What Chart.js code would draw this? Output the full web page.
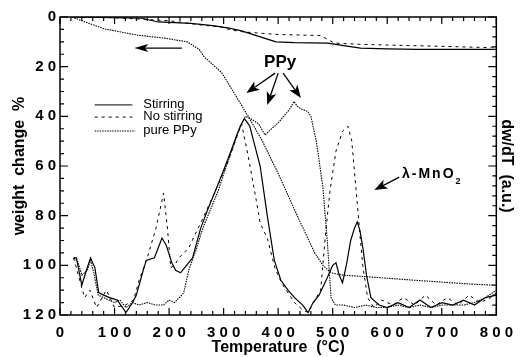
<!DOCTYPE html>
<html>
<head>
<meta charset="utf-8">
<script src="https://cdn.jsdelivr.net/npm/chart.js@4"></script>
<style>
html, body { margin: 0; padding: 0; background: #fff; }
</style>
</head>
<body>
<canvas id="tgaChart" width="522" height="357"></canvas>
<script>
// TGA curves (weight change %, left axis)
var tgaStirT = [25, 100, 150, 170, 180, 240, 280, 310, 333, 360, 396, 430, 491, 520, 551, 600, 655, 703, 750, 800];
var tgaStirW = [0, 0.3, 0.5, 1.5, 2, 2.6, 3.5, 4.5, 5.6, 7.5, 10, 10.3, 10.5, 11.5, 12.5, 12.8, 13, 13, 13, 13];

var tgaNoStirT = [25, 100, 200, 258, 295, 313, 336, 396, 478, 503, 550, 600, 700, 782, 800];
var tgaNoStirW = [0, 0.3, 1.5, 3.2, 4, 5.2, 6, 7, 7.5, 10.5, 11, 11.3, 11.8, 12.3, 12];

var tgaPpyT = [22, 51, 82, 142, 191, 233, 255, 264, 287, 297, 327, 345, 370, 400, 436, 467, 482, 497, 520, 557, 650, 750, 795];
var tgaPpyW = [0, 2.4, 4.8, 7.3, 8.5, 10, 13, 16, 20.5, 22.6, 33.4, 40, 49.5, 63, 80.5, 95, 100, 103, 104, 104.5, 106, 107.5, 108];

// DTG curves (dw/dT, right axis, a.u.)
var dtgStirT = [25, 30, 40, 47, 56, 64, 71, 80, 91, 105, 121, 133, 140, 150, 158, 173, 180, 187, 195, 205,
	212, 221, 232, 243, 258, 270, 285, 303, 315, 325, 333, 338, 342, 348, 355, 367, 380, 393, 405, 418,
	430, 445, 455, 464, 475, 490, 500, 506, 512, 518, 525, 533, 540, 545, 550, 556, 562, 570, 585, 600,
	620, 640, 660, 680, 700, 720, 740, 760, 780, 800];
var dtgStirV = [97, 97, 108, 103, 97, 101, 111, 112, 113, 114, 119, 115, 112, 104, 98, 97, 93, 89, 92, 99,
	102, 103, 100, 97, 85, 78, 70, 60, 53, 47, 43, 41, 42, 44, 50, 60, 80, 98, 106, 110,
	113, 116, 119, 115, 112, 105, 100, 99, 104, 107, 100, 90, 85, 82.5, 86, 94, 104, 113, 116, 117,
	115, 117, 114, 117, 115, 116, 114, 116, 113, 112];

var dtgNoStirT = [25, 35, 45, 55, 67, 85, 100, 120, 135, 145, 160, 176, 190, 197, 203, 210, 218, 236, 260, 285,
	305, 318, 333, 345, 360, 367, 380, 394, 406, 418, 430, 445, 455, 470, 478, 487, 495, 506, 518, 528,
	535, 545, 555, 564, 575, 590, 610, 630, 650, 670, 690, 710, 730, 750, 770, 790, 800];
var dtgNoStirV = [97, 105, 113, 110, 117, 110, 117, 116, 114, 106, 97, 85, 71, 85, 101, 100, 97, 93, 82, 70,
	60, 52, 43, 56, 74, 83, 89, 101, 107, 111, 115, 118, 119, 113, 110, 87, 70, 54, 46, 44,
	50, 75, 100, 113, 117, 114, 116, 113, 116, 112, 116, 113, 116, 112, 115, 113, 111];

var dtgPpyT = [25, 32, 40, 50, 56, 62, 70, 80, 90, 100, 110, 121, 133, 145, 160, 175, 190, 200, 210, 221,
	227, 236, 249, 262, 275, 290, 305, 318, 330, 340, 350, 364, 376, 388, 400, 410, 418, 424, 429, 435,
	442, 454, 460, 470, 482, 490, 497, 505, 520, 540, 560, 580, 600, 620, 640, 660, 680, 700, 720, 740,
	760, 780, 800];
var dtgPpyV = [97, 98, 104, 102, 98, 103, 112, 113, 114, 115, 114, 117, 115, 116, 115, 116, 116, 114, 115, 112.5,
	111, 102, 94, 85, 78, 70, 60, 52, 44, 40, 41, 43, 47.5, 45, 42.7, 40, 38, 36, 34, 36,
	37, 38, 40, 50, 68.5, 90, 113, 116, 116, 117, 116, 117, 117, 116, 117, 116, 117, 116, 116, 116,
	115, 113, 110];

var xTicks = [0, 100, 200, 300, 400, 500, 600, 700, 800];
var yTicks = [0, 20, 40, 60, 80, 100, 120];

var legendNames = ['Stirring', 'No stirring', 'pure PPy'];
var dashes = [[], [3, 4], [1.5, 1]];

function pts(xs, ys) {
	return xs.map(function (x, i) { return { x: x, y: ys[i] }; });
}

function spaced(v) {
	return String(v).split('').join(' ');
}

var boldFont = { family: '"Liberation Sans", Arial, sans-serif', size: 15, weight: 'bold' };
var titleFont = { family: '"Liberation Sans", Arial, sans-serif', size: 16, weight: 'bold' };

function arrow(ctx, x1, y1, x2, y2, len, half) {
	var a = Math.atan2(y2 - y1, x2 - x1);
	var bx = x2 - Math.cos(a) * len * 0.75, by = y2 - Math.sin(a) * len * 0.75;
	ctx.beginPath();
	ctx.moveTo(x1, y1);
	ctx.lineTo(bx, by);
	ctx.stroke();
	ctx.beginPath();
	ctx.moveTo(x2, y2);
	ctx.lineTo(x2 - Math.cos(a) * len + Math.sin(a) * half, y2 - Math.sin(a) * len - Math.cos(a) * half);
	ctx.lineTo(bx, by);
	ctx.lineTo(x2 - Math.cos(a) * len - Math.sin(a) * half, y2 - Math.sin(a) * len + Math.cos(a) * half);
	ctx.closePath();
	ctx.fill();
}

// frame with inward ticks on all four sides
var frameTicks = {
	id: 'frameTicks',
	afterDraw: function (chart) {
		var ctx = chart.ctx, a = chart.chartArea;
		var sx = chart.scales.x, sy = chart.scales.y, sy2 = chart.scales.y2;
		ctx.save();
		ctx.strokeStyle = '#000';
		ctx.lineWidth = 1.5;
		ctx.strokeRect(a.left, a.top, a.right - a.left, a.bottom - a.top);
		ctx.lineWidth = 1.2;
		ctx.beginPath();
		for (var t = 0; t <= 800; t += 20) {
			var px = sx.getPixelForValue(t);
			var l = (t % 100 === 0) ? 7 : 4;
			ctx.moveTo(px, a.bottom); ctx.lineTo(px, a.bottom - l);
			ctx.moveTo(px, a.top); ctx.lineTo(px, a.top + l);
		}
		for (var v = 0; v <= 120; v += 5) {
			var py = sy.getPixelForValue(v);
			var l2 = (v % 20 === 0) ? 8 : 4;
			ctx.moveTo(a.left, py); ctx.lineTo(a.left + l2, py);
		}
		for (var w = 0; w <= 120; w += 4) {
			var py2 = sy2.getPixelForValue(w);
			var l3 = (w % 20 === 0) ? 8 : 4;
			ctx.moveTo(a.right, py2); ctx.lineTo(a.right - l3, py2);
		}
		ctx.stroke();
		ctx.restore();
	}
};

// legend and the labels with arrows
var notes = {
	id: 'notes',
	afterDraw: function (chart) {
		var ctx = chart.ctx;
		var sx = chart.scales.x, sy = chart.scales.y;
		function X(t) { return sx.getPixelForValue(t); }
		function Y(v) { return sy.getPixelForValue(v); }
		ctx.save();
		ctx.strokeStyle = '#000';
		ctx.fillStyle = '#000';

		// legend
		var rowsV = [35.4, 40.3, 45.9];
		var ends = [132.7, 132.7, 150];
		ctx.font = '13px "Liberation Sans", Arial, sans-serif';
		ctx.textBaseline = 'alphabetic';
		for (var i = 0; i < 3; i++) {
			ctx.lineWidth = 1;
			ctx.setLineDash(dashes[i]);
			ctx.beginPath();
			ctx.moveTo(X(63.6), Y(rowsV[i]));
			ctx.lineTo(X(ends[i] - (i === 2 ? 12 : 0)), Y(rowsV[i]));
			ctx.stroke();
			ctx.fillText(legendNames[i], X(152.7), Y(rowsV[i]) + 3);
		}
		ctx.setLineDash([]);

		// PPy
		ctx.font = 'bold 17px "Liberation Sans", Arial, sans-serif';
		ctx.textAlign = 'center';
		ctx.textBaseline = 'middle';
		ctx.fillText('PPy', X(403.6), Y(18.1));
		ctx.lineWidth = 1.3;
		arrow(ctx, X(394.5), Y(22.6), X(341.8), Y(30.6), 13, 5);
		arrow(ctx, X(400), Y(22.6), X(380), Y(35.4), 13, 5);
		arrow(ctx, X(409), Y(22.6), X(441.8), Y(32.6), 13, 5);

		// weight arrow pointing to the left axis
		arrow(ctx, X(223.6), Y(12.5), X(136.4), Y(12.5), 14, 4);

		// lambda-MnO2
		ctx.textAlign = 'left';
		ctx.textBaseline = 'alphabetic';
		ctx.font = 'bold 14px "Liberation Sans", Arial, sans-serif';
		ctx.letterSpacing = '2px';
		var tx = X(627), ty = Y(64.8);
		ctx.fillText('\u03bb-MnO', tx, ty);
		var wdt = ctx.measureText('\u03bb-MnO').width;
		ctx.letterSpacing = '0px';
		ctx.font = 'bold 9px "Liberation Sans", Arial, sans-serif';
		ctx.fillText('2', tx + wdt, ty + 6);
		arrow(ctx, X(622), Y(64.5), X(576.4), Y(69.7), 13, 5);
		ctx.restore();
	}
};

var ctx = document.getElementById('tgaChart').getContext('2d');

var tgaChart = new Chart(ctx, {
	type: 'line',
	data: {
		datasets: [
			{ label: 'Stirring', data: pts(tgaStirT, tgaStirW), yAxisID: 'y', borderDash: dashes[0], borderWidth: 1.2 },
			{ label: 'No stirring', data: pts(tgaNoStirT, tgaNoStirW), yAxisID: 'y', borderDash: dashes[1] },
			{ label: 'pure PPy', data: pts(tgaPpyT, tgaPpyW), yAxisID: 'y', borderDash: dashes[2], borderWidth: 1.1 },
			{ label: 'Stirring DTG', data: pts(dtgStirT, dtgStirV), yAxisID: 'y2', borderDash: dashes[0], borderWidth: 1.2 },
			{ label: 'No stirring DTG', data: pts(dtgNoStirT, dtgNoStirV), yAxisID: 'y2', borderDash: dashes[1] },
			{ label: 'pure PPy DTG', data: pts(dtgPpyT, dtgPpyV), yAxisID: 'y2', borderDash: dashes[2], borderWidth: 1.1 }
		]
	},
	options: {
		responsive: false,
		animation: false,
		devicePixelRatio: 1,
		layout: { padding: { top: 17, left: 0, right: 0, bottom: 0 } },
		plugins: { legend: { display: false }, tooltip: { enabled: false } },
		elements: {
			point: { radius: 0 },
			line: { tension: 0, borderWidth: 1, borderColor: '#000', fill: false }
		},
		scales: {
			x: {
				type: 'linear', min: 0, max: 800,
				grid: { display: false, drawTicks: false },
				border: { display: false },
				afterBuildTicks: function (s) { s.ticks = xTicks.map(function (v) { return { value: v }; }); },
				ticks: { padding: 9, color: '#000', font: boldFont, callback: spaced, maxRotation: 0, autoSkip: false },
				title: { display: true, text: 'Temperature  (\u00b0C)', color: '#000', font: titleFont, padding: { top: 0, bottom: 0 } },
				afterFit: function (s) { s.height = 42; }
			},
			y: {
				type: 'linear', position: 'left', reverse: true, min: 0, max: 120,
				grid: { display: false, drawTicks: false },
				border: { display: false },
				afterBuildTicks: function (s) { s.ticks = yTicks.map(function (v) { return { value: v }; }); },
				ticks: { padding: 4, color: '#000', font: boldFont, callback: spaced, autoSkip: false },
				title: { display: true, text: 'weight  change  %', color: '#000', font: titleFont, padding: { top: 10, bottom: 0 } },
				afterFit: function (s) { s.width = 60; }
			},
			y2: {
				type: 'linear', position: 'right', reverse: true, min: 0, max: 120,
				grid: { display: false, drawTicks: false },
				border: { display: false },
				ticks: { display: false },
				title: { display: true, text: 'dw/dT  (a.u.)', color: '#000', font: titleFont, padding: { top: 2, bottom: 0 } },
				afterFit: function (s) { s.width = 22; }
			}
		}
	},
	plugins: [frameTicks, notes]
});
</script>
</body>
</html>
